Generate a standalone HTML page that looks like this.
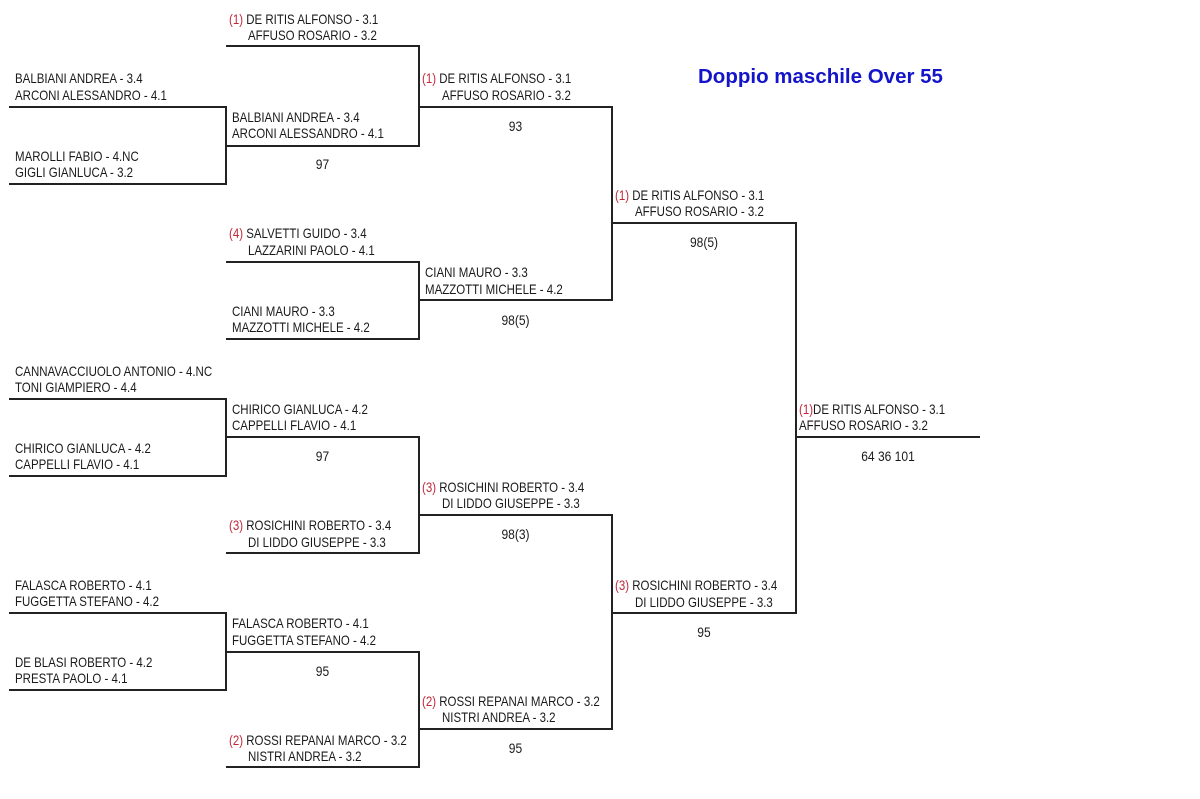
<!DOCTYPE html>
<html><head><meta charset="utf-8">
<style>
html,body{margin:0;padding:0;background:#fff;}
body{width:1200px;height:799px;position:relative;overflow:hidden;font-family:"Liberation Sans",sans-serif;color:#1a1a1a;}
.t{position:absolute;font-size:14px;line-height:16px;white-space:nowrap;transform:scaleX(0.82);transform-origin:0 50%;}
.s{color:#c0283a;}
.c{position:absolute;font-size:14px;line-height:16px;text-align:center;transform:scaleX(0.86);}
.h{position:absolute;height:1.5px;background:#222;}
.v{position:absolute;width:1.5px;background:#222;}
.title{position:absolute;left:698px;top:65px;font-size:20.5px;font-weight:bold;color:#1414c8;white-space:nowrap;}
</style></head><body>
<div class="title">Doppio maschile Over 55</div>

<!-- col0 -->
<div class="t" style="left:15px;top:70px">BALBIANI ANDREA - 3.4</div>
<div class="t" style="left:15px;top:87px">ARCONI ALESSANDRO - 4.1</div>
<div class="h" style="left:9px;width:218px;top:106px"></div>
<div class="t" style="left:15px;top:148px">MAROLLI FABIO - 4.NC</div>
<div class="t" style="left:15px;top:164px">GIGLI GIANLUCA - 3.2</div>
<div class="h" style="left:9px;width:218px;top:183px"></div>
<div class="v" style="left:225px;top:106px;height:78px"></div>

<div class="t" style="left:15px;top:363px">CANNAVACCIUOLO ANTONIO - 4.NC</div>
<div class="t" style="left:15px;top:379px">TONI GIAMPIERO - 4.4</div>
<div class="h" style="left:9px;width:218px;top:398px"></div>
<div class="t" style="left:15px;top:440px">CHIRICO GIANLUCA - 4.2</div>
<div class="t" style="left:15px;top:456px">CAPPELLI FLAVIO - 4.1</div>
<div class="h" style="left:9px;width:218px;top:475px"></div>
<div class="v" style="left:225px;top:398px;height:78px"></div>

<div class="t" style="left:15px;top:577px">FALASCA ROBERTO - 4.1</div>
<div class="t" style="left:15px;top:593px">FUGGETTA STEFANO - 4.2</div>
<div class="h" style="left:9px;width:218px;top:612px"></div>
<div class="t" style="left:15px;top:654px">DE BLASI ROBERTO - 4.2</div>
<div class="t" style="left:15px;top:670px">PRESTA PAOLO - 4.1</div>
<div class="h" style="left:9px;width:218px;top:689px"></div>
<div class="v" style="left:225px;top:612px;height:78px"></div>

<!-- col1 -->
<div class="t" style="left:229px;top:11px"><span class="s">(1)</span> DE RITIS ALFONSO - 3.1</div>
<div class="t" style="left:248px;top:27px">AFFUSO ROSARIO - 3.2</div>
<div class="h" style="left:226px;width:194px;top:45px"></div>
<div class="t" style="left:232px;top:109px">BALBIANI ANDREA - 3.4</div>
<div class="t" style="left:232px;top:125px">ARCONI ALESSANDRO - 4.1</div>
<div class="h" style="left:226px;width:194px;top:145px"></div>
<div class="c" style="left:226px;width:193px;top:156px">97</div>
<div class="v" style="left:418px;top:45px;height:101px"></div>

<div class="t" style="left:229px;top:225px"><span class="s">(4)</span> SALVETTI GUIDO - 3.4</div>
<div class="t" style="left:248px;top:242px">LAZZARINI PAOLO - 4.1</div>
<div class="h" style="left:226px;width:194px;top:261px"></div>
<div class="t" style="left:232px;top:303px">CIANI MAURO - 3.3</div>
<div class="t" style="left:232px;top:319px">MAZZOTTI MICHELE - 4.2</div>
<div class="h" style="left:226px;width:194px;top:338px"></div>
<div class="v" style="left:418px;top:261px;height:78px"></div>

<div class="t" style="left:232px;top:401px">CHIRICO GIANLUCA - 4.2</div>
<div class="t" style="left:232px;top:417px">CAPPELLI FLAVIO - 4.1</div>
<div class="h" style="left:226px;width:194px;top:436px"></div>
<div class="c" style="left:226px;width:193px;top:448px">97</div>
<div class="t" style="left:229px;top:517px"><span class="s">(3)</span> ROSICHINI ROBERTO - 3.4</div>
<div class="t" style="left:248px;top:534px">DI LIDDO GIUSEPPE - 3.3</div>
<div class="h" style="left:226px;width:194px;top:552px"></div>
<div class="v" style="left:418px;top:436px;height:117px"></div>

<div class="t" style="left:232px;top:615px">FALASCA ROBERTO - 4.1</div>
<div class="t" style="left:232px;top:632px">FUGGETTA STEFANO - 4.2</div>
<div class="h" style="left:226px;width:194px;top:651px"></div>
<div class="c" style="left:226px;width:193px;top:663px">95</div>
<div class="t" style="left:229px;top:732px"><span class="s">(2)</span> ROSSI REPANAI MARCO - 3.2</div>
<div class="t" style="left:248px;top:748px">NISTRI ANDREA - 3.2</div>
<div class="h" style="left:226px;width:194px;top:766px"></div>
<div class="v" style="left:418px;top:651px;height:116px"></div>

<!-- col2 -->
<div class="t" style="left:422px;top:70px"><span class="s">(1)</span> DE RITIS ALFONSO - 3.1</div>
<div class="t" style="left:442px;top:87px">AFFUSO ROSARIO - 3.2</div>
<div class="h" style="left:419px;width:194px;top:106px"></div>
<div class="c" style="left:419px;width:193px;top:118px">93</div>
<div class="t" style="left:425px;top:264px">CIANI MAURO - 3.3</div>
<div class="t" style="left:425px;top:281px">MAZZOTTI MICHELE - 4.2</div>
<div class="h" style="left:419px;width:194px;top:299px"></div>
<div class="c" style="left:419px;width:193px;top:312px">98(5)</div>
<div class="v" style="left:611px;top:106px;height:194px"></div>

<div class="t" style="left:422px;top:479px"><span class="s">(3)</span> ROSICHINI ROBERTO - 3.4</div>
<div class="t" style="left:442px;top:495px">DI LIDDO GIUSEPPE - 3.3</div>
<div class="h" style="left:419px;width:194px;top:514px"></div>
<div class="c" style="left:419px;width:193px;top:526px">98(3)</div>
<div class="t" style="left:422px;top:693px"><span class="s">(2)</span> ROSSI REPANAI MARCO - 3.2</div>
<div class="t" style="left:442px;top:709px">NISTRI ANDREA - 3.2</div>
<div class="h" style="left:419px;width:194px;top:728px"></div>
<div class="c" style="left:419px;width:193px;top:740px">95</div>
<div class="v" style="left:611px;top:514px;height:215px"></div>

<!-- col3 -->
<div class="t" style="left:615px;top:187px"><span class="s">(1)</span> DE RITIS ALFONSO - 3.1</div>
<div class="t" style="left:635px;top:203px">AFFUSO ROSARIO - 3.2</div>
<div class="h" style="left:612px;width:185px;top:222px"></div>
<div class="c" style="left:612px;width:184px;top:234px">98(5)</div>
<div class="t" style="left:615px;top:577px"><span class="s">(3)</span> ROSICHINI ROBERTO - 3.4</div>
<div class="t" style="left:635px;top:594px">DI LIDDO GIUSEPPE - 3.3</div>
<div class="h" style="left:612px;width:185px;top:612px"></div>
<div class="c" style="left:612px;width:184px;top:624px">95</div>
<div class="v" style="left:795px;top:222px;height:391px"></div>

<!-- final -->
<div class="t" style="left:799px;top:401px"><span class="s">(1)</span>DE RITIS ALFONSO - 3.1</div>
<div class="t" style="left:799px;top:417px">AFFUSO ROSARIO - 3.2</div>
<div class="h" style="left:796px;width:184px;top:436px"></div>
<div class="c" style="left:796px;width:184px;top:448px">64 36 101</div>
</body></html>
